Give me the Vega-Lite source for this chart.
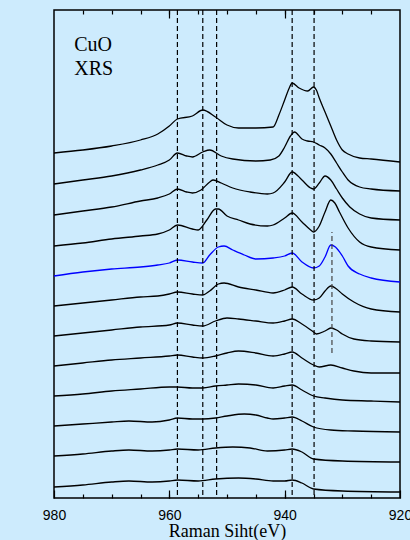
{
  "$schema": "https://vega.github.io/schema/vega-lite/v6.json",
  "width": 346,
  "height": 488,
  "autosize": {"type": "none"},
  "padding": {"left": 54, "top": 10, "right": 10, "bottom": 42},
  "background": "#cdebfd",
  "config": {
    "view": {"stroke": "#000000", "strokeWidth": 1.5},
    "axis": {"grid": false, "domain": false, "tickColor": "#000000", "tickWidth": 1.2}
  },
  "datasets": {
    "curves": [
      {"s":1,"e":980,"v":345},{"s":1,"e":975,"v":348},{"s":1,"e":970,"v":352},{"s":1,"e":965,"v":358},{"s":1,"e":962,"v":364},{"s":1,"e":960,"v":372},{"s":1,"e":958.6,"v":379},{"s":1,"e":956,"v":382},{"s":1,"e":954.2,"v":388},{"s":1,"e":952,"v":381},{"s":1,"e":950,"v":373},{"s":1,"e":948,"v":370},{"s":1,"e":945,"v":370},{"s":1,"e":942,"v":371},{"s":1,"e":941,"v":383},{"s":1,"e":940,"v":398},{"s":1,"e":939.2,"v":410},{"s":1,"e":938.7,"v":415},{"s":1,"e":937.5,"v":410},{"s":1,"e":936,"v":407},{"s":1,"e":935,"v":411},{"s":1,"e":934.5,"v":408},{"s":1,"e":934,"v":400},{"s":1,"e":933,"v":386},{"s":1,"e":932,"v":372},{"s":1,"e":931,"v":358},{"s":1,"e":930,"v":348},{"s":1,"e":929,"v":344},{"s":1,"e":927,"v":340},{"s":1,"e":925,"v":339},{"s":1,"e":920,"v":336},
      {"s":2,"e":980,"v":314},{"s":2,"e":975,"v":318},{"s":2,"e":970,"v":322},{"s":2,"e":965,"v":328},{"s":2,"e":962,"v":333},{"s":2,"e":960,"v":338},{"s":2,"e":958.6,"v":345},{"s":2,"e":957,"v":342},{"s":2,"e":956,"v":341},{"s":2,"e":954.2,"v":346},{"s":2,"e":953,"v":348},{"s":2,"e":951,"v":342},{"s":2,"e":949,"v":339},{"s":2,"e":945,"v":337},{"s":2,"e":942.5,"v":338},{"s":2,"e":941,"v":342},{"s":2,"e":940,"v":351},{"s":2,"e":939,"v":362},{"s":2,"e":938.3,"v":366},{"s":2,"e":937,"v":359},{"s":2,"e":936,"v":357},{"s":2,"e":935,"v":356},{"s":2,"e":934,"v":353},{"s":2,"e":933,"v":350},{"s":2,"e":932,"v":344},{"s":2,"e":931,"v":335},{"s":2,"e":930,"v":326},{"s":2,"e":929,"v":318},{"s":2,"e":927,"v":311},{"s":2,"e":925,"v":309},{"s":2,"e":920,"v":307},
      {"s":3,"e":980,"v":283},{"s":3,"e":975,"v":287},{"s":3,"e":970,"v":291},{"s":3,"e":965,"v":297},{"s":3,"e":962,"v":300},{"s":3,"e":960,"v":304},{"s":3,"e":958.6,"v":309},{"s":3,"e":957,"v":306},{"s":3,"e":956,"v":305},{"s":3,"e":954.5,"v":308},{"s":3,"e":953,"v":316},{"s":3,"e":952.4,"v":318},{"s":3,"e":951,"v":315},{"s":3,"e":949,"v":310},{"s":3,"e":946,"v":306},{"s":3,"e":943,"v":304},{"s":3,"e":942,"v":305},{"s":3,"e":940,"v":316},{"s":3,"e":938.7,"v":326},{"s":3,"e":937,"v":318},{"s":3,"e":935.5,"v":310},{"s":3,"e":935,"v":309},{"s":3,"e":934,"v":315},{"s":3,"e":933,"v":322},{"s":3,"e":932,"v":318},{"s":3,"e":931,"v":309},{"s":3,"e":930,"v":300},{"s":3,"e":928.7,"v":291},{"s":3,"e":927,"v":284},{"s":3,"e":925,"v":280},{"s":3,"e":920,"v":278},
      {"s":4,"e":980,"v":252},{"s":4,"e":975,"v":255},{"s":4,"e":970,"v":259},{"s":4,"e":965,"v":262},{"s":4,"e":962,"v":264},{"s":4,"e":960,"v":268},{"s":4,"e":958.6,"v":273},{"s":4,"e":956,"v":269},{"s":4,"e":955,"v":268},{"s":4,"e":953.5,"v":278},{"s":4,"e":952,"v":289},{"s":4,"e":951.5,"v":289},{"s":4,"e":950,"v":282},{"s":4,"e":948,"v":278},{"s":4,"e":946,"v":274},{"s":4,"e":943,"v":272},{"s":4,"e":942,"v":273},{"s":4,"e":940,"v":280},{"s":4,"e":938.7,"v":285},{"s":4,"e":937,"v":276},{"s":4,"e":935.5,"v":268},{"s":4,"e":935,"v":266},{"s":4,"e":934,"v":272},{"s":4,"e":933,"v":286},{"s":4,"e":932,"v":298},{"s":4,"e":931.3,"v":295},{"s":4,"e":930.5,"v":286},{"s":4,"e":929,"v":270},{"s":4,"e":927,"v":256},{"s":4,"e":925,"v":251},{"s":4,"e":920,"v":248},
      {"s":5,"e":980,"v":222},{"s":5,"e":975,"v":226},{"s":5,"e":970,"v":229},{"s":5,"e":965,"v":231},{"s":5,"e":962,"v":233},{"s":5,"e":960,"v":235},{"s":5,"e":958.6,"v":238},{"s":5,"e":956,"v":236},{"s":5,"e":954.2,"v":235},{"s":5,"e":953,"v":243},{"s":5,"e":951.5,"v":251},{"s":5,"e":950.5,"v":252},{"s":5,"e":949,"v":248},{"s":5,"e":947,"v":243},{"s":5,"e":945,"v":239},{"s":5,"e":942,"v":240},{"s":5,"e":940,"v":242},{"s":5,"e":938.7,"v":245},{"s":5,"e":937,"v":236},{"s":5,"e":935,"v":230},{"s":5,"e":934,"v":232},{"s":5,"e":933,"v":241},{"s":5,"e":932,"v":253},{"s":5,"e":931.2,"v":251},{"s":5,"e":930,"v":242},{"s":5,"e":929,"v":232},{"s":5,"e":927,"v":224},{"s":5,"e":925,"v":220},{"s":5,"e":920,"v":216},
      {"s":6,"e":980,"v":192},{"s":6,"e":975,"v":195},{"s":6,"e":970,"v":198},{"s":6,"e":965,"v":201},{"s":6,"e":962,"v":202},{"s":6,"e":960,"v":204},{"s":6,"e":958.6,"v":206},{"s":6,"e":956,"v":204},{"s":6,"e":954.2,"v":203},{"s":6,"e":953,"v":207},{"s":6,"e":951.5,"v":214},{"s":6,"e":950.5,"v":215},{"s":6,"e":948,"v":211},{"s":6,"e":945,"v":208},{"s":6,"e":942,"v":205},{"s":6,"e":940,"v":208},{"s":6,"e":938.7,"v":211},{"s":6,"e":937,"v":204},{"s":6,"e":935,"v":198},{"s":6,"e":934,"v":200},{"s":6,"e":933,"v":207},{"s":6,"e":932,"v":212},{"s":6,"e":931,"v":209},{"s":6,"e":930,"v":204},{"s":6,"e":928,"v":196},{"s":6,"e":925,"v":189},{"s":6,"e":920,"v":186},
      {"s":7,"e":980,"v":162},{"s":7,"e":975,"v":165},{"s":7,"e":970,"v":168},{"s":7,"e":965,"v":171},{"s":7,"e":960,"v":173},{"s":7,"e":958.6,"v":175},{"s":7,"e":956,"v":173},{"s":7,"e":954.2,"v":172},{"s":7,"e":952,"v":177},{"s":7,"e":950,"v":180},{"s":7,"e":948,"v":179},{"s":7,"e":945,"v":177},{"s":7,"e":942,"v":175},{"s":7,"e":940,"v":177},{"s":7,"e":938.7,"v":179},{"s":7,"e":937,"v":174},{"s":7,"e":935,"v":166},{"s":7,"e":934.5,"v":164},{"s":7,"e":933,"v":167},{"s":7,"e":932,"v":170},{"s":7,"e":931,"v":168},{"s":7,"e":930,"v":164},{"s":7,"e":928,"v":159},{"s":7,"e":925,"v":157},{"s":7,"e":920,"v":156},
      {"s":8,"e":980,"v":132},{"s":8,"e":975,"v":135},{"s":8,"e":970,"v":138},{"s":8,"e":965,"v":140},{"s":8,"e":960,"v":142},{"s":8,"e":958.6,"v":143},{"s":8,"e":956,"v":141},{"s":8,"e":954.2,"v":140},{"s":8,"e":952,"v":142},{"s":8,"e":950,"v":145},{"s":8,"e":948,"v":147},{"s":8,"e":945,"v":145},{"s":8,"e":942,"v":142},{"s":8,"e":940,"v":144},{"s":8,"e":938.7,"v":146},{"s":8,"e":937,"v":140},{"s":8,"e":935,"v":133},{"s":8,"e":934,"v":131},{"s":8,"e":932,"v":133},{"s":8,"e":930,"v":130},{"s":8,"e":928,"v":127},{"s":8,"e":925,"v":125},{"s":8,"e":920,"v":125},
      {"s":9,"e":980,"v":102},{"s":9,"e":975,"v":104},{"s":9,"e":970,"v":107},{"s":9,"e":965,"v":109},{"s":9,"e":960,"v":111},{"s":9,"e":958.6,"v":111},{"s":9,"e":956,"v":110},{"s":9,"e":954.2,"v":110},{"s":9,"e":952,"v":112},{"s":9,"e":950,"v":113},{"s":9,"e":948,"v":114},{"s":9,"e":945,"v":113},{"s":9,"e":942,"v":110},{"s":9,"e":940,"v":112},{"s":9,"e":938.7,"v":113},{"s":9,"e":937,"v":108},{"s":9,"e":935,"v":102},{"s":9,"e":933,"v":100},{"s":9,"e":930,"v":98},{"s":9,"e":925,"v":97},{"s":9,"e":920,"v":96},
      {"s":10,"e":980,"v":72},{"s":10,"e":975,"v":74},{"s":10,"e":970,"v":76},{"s":10,"e":967,"v":77},{"s":10,"e":963,"v":76},{"s":10,"e":960,"v":78},{"s":10,"e":958.6,"v":80},{"s":10,"e":956,"v":79},{"s":10,"e":954.2,"v":79},{"s":10,"e":952,"v":80},{"s":10,"e":950,"v":82},{"s":10,"e":947,"v":84},{"s":10,"e":945,"v":83},{"s":10,"e":943,"v":80},{"s":10,"e":942,"v":79},{"s":10,"e":940,"v":80},{"s":10,"e":938.7,"v":81},{"s":10,"e":937,"v":77},{"s":10,"e":935,"v":71},{"s":10,"e":932,"v":68},{"s":10,"e":928,"v":67},{"s":10,"e":920,"v":66},
      {"s":11,"e":980,"v":42},{"s":11,"e":975,"v":44},{"s":11,"e":970,"v":47},{"s":11,"e":967,"v":48},{"s":11,"e":963,"v":47},{"s":11,"e":960,"v":48},{"s":11,"e":958.6,"v":49},{"s":11,"e":955,"v":48},{"s":11,"e":952,"v":50},{"s":11,"e":949,"v":51},{"s":11,"e":946,"v":50},{"s":11,"e":943,"v":47},{"s":11,"e":940,"v":48},{"s":11,"e":938.7,"v":49},{"s":11,"e":937,"v":46},{"s":11,"e":935,"v":39},{"s":11,"e":930,"v":37},{"s":11,"e":920,"v":36},
      {"s":12,"e":980,"v":11},{"s":12,"e":975,"v":13},{"s":12,"e":970,"v":16},{"s":12,"e":967,"v":17},{"s":12,"e":963,"v":16},{"s":12,"e":960,"v":17},{"s":12,"e":958.6,"v":18},{"s":12,"e":955,"v":17},{"s":12,"e":952,"v":19},{"s":12,"e":948,"v":20},{"s":12,"e":945,"v":19},{"s":12,"e":942,"v":17},{"s":12,"e":940,"v":17},{"s":12,"e":938.7,"v":18},{"s":12,"e":937,"v":15},{"s":12,"e":935,"v":9},{"s":12,"e":930,"v":7},{"s":12,"e":920,"v":6}
    ],
    "dashes": [{"e": 958.6}, {"e": 954.2}, {"e": 951.8}, {"e": 938.7}, {"e": 934.9}],
    "short": [{"e": 931.8, "a": 145, "b": 266}],
    "labels": [{"e": 976.5, "v": 447, "t": "CuO"}, {"e": 976.5, "v": 423, "t": "XRS"}]
  },
  "resolve": {"axis": {"x": "independent"}},
  "layer": [
    {
      "data": {"name": "curves"},
      "mark": {"type": "line", "strokeWidth": 1.3, "interpolate": "monotone"},
      "encoding": {
        "x": {
          "field": "e", "type": "quantitative",
          "scale": {"domain": [920, 980], "reverse": true, "nice": false, "zero": false},
          "axis": {
            "orient": "bottom", "values": [980, 960, 940, 920], "tickSize": -8,
            "labelPadding": 18, "labelFlush": false, "labelOverlap": false,
            "labelFont": "Liberation Sans", "labelFontSize": 14, "labelColor": "#000000",
            "title": "Raman Siht(eV)", "titleFont": "Liberation Serif", "titleFontSize": 18,
            "titleFontWeight": "normal", "titleColor": "#000000", "titlePadding": 0
          }
        },
        "y": {
          "field": "v", "type": "quantitative",
          "scale": {"domain": [0, 488], "nice": false, "zero": false},
          "axis": {
            "ticks": false, "labels": false, "title": "Intensity(arb.unit)",
            "titleFont": "Liberation Serif", "titleFontSize": 20, "titleFontWeight": "normal",
            "titleColor": "#000000", "titlePadding": 10
          }
        },
        "detail": {"field": "s", "type": "nominal"},
        "color": {
          "field": "s", "type": "nominal", "legend": null,
          "scale": {"domain": [1,2,3,4,5,6,7,8,9,10,11,12],
                    "range": ["#000000","#000000","#000000","#000000","#0000ff","#000000","#000000","#000000","#000000","#000000","#000000","#000000"]}
        }
      }
    },
    {
      "data": {"name": "dashes"},
      "mark": {"type": "rule", "color": "#000000", "strokeWidth": 1.2, "strokeDash": [5, 3]},
      "encoding": {
        "x": {
          "field": "e", "type": "quantitative",
          "axis": {"orient": "bottom", "values": [975,970,965,960,955,950,945,940,935,930,925], "tickSize": -4, "labels": false, "title": null}
        }
      }
    },
    {
      "data": {"name": "short"},
      "mark": {"type": "rule", "color": "#444444", "strokeWidth": 1.2, "strokeDash": [5, 3]},
      "encoding": {
        "x": {
          "field": "e", "type": "quantitative",
          "axis": {"orient": "top", "values": [975,970,965,960,955,950,945,940,935,930,925], "tickSize": -4, "labels": false, "title": null}
        },
        "y": {"field": "a", "type": "quantitative", "axis": null},
        "y2": {"field": "b"}
      }
    },
    {
      "data": {"name": "labels"},
      "mark": {"type": "text", "align": "left", "baseline": "alphabetic", "font": "Liberation Serif", "fontSize": 20, "color": "#000000"},
      "encoding": {
        "x": {
          "field": "e", "type": "quantitative",
          "axis": {"orient": "top", "values": [960, 940], "tickSize": -8, "labels": false, "title": null}
        },
        "y": {"field": "v", "type": "quantitative", "axis": null},
        "text": {"field": "t"}
      }
    }
  ]
}
